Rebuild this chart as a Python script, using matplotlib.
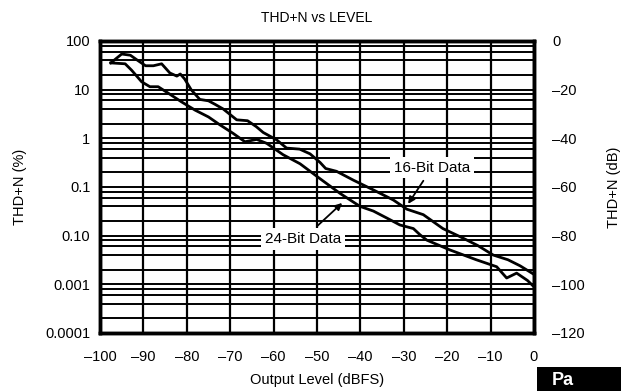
import numpy as np
import matplotlib
matplotlib.use("Agg")
import matplotlib.pyplot as plt
from matplotlib.ticker import LogLocator, NullFormatter, FixedLocator, FixedFormatter

plt.rcParams['font.family'] = ['Liberation Sans', 'DejaVu Sans']

# Output level (dBFS) and THD+N (%) for each word length
level_16 = [-97.5, -95, -93, -91.5, -89.5, -87.7, -85.8, -83.9, -82.3, -81.5, -80.5,
            -79, -77, -75, -73.5, -71.6, -68.5, -66, -64, -62.4, -59.3, -57, -54,
            -51.6, -49.3, -48, -45.5, -41.6, -37, -32.4, -29.3, -25.5, -21, -17,
            -13, -9.4, -6, -3.2, 0]
thdn_16 = [35.5, 54, 51, 41, 31, 31, 34, 22, 19, 21, 16.6,
           10, 6.3, 5.9, 5.0, 4.0, 2.4, 2.3, 1.74, 1.32, 0.93, 0.63, 0.60,
           0.48, 0.32, 0.24, 0.21, 0.138, 0.087, 0.054, 0.035, 0.027, 0.014, 0.0095,
           0.0063, 0.0040, 0.0032, 0.0024, 0.0016]

level_24 = [-97.5, -94.2, -92.7, -90.4, -88.5, -86.6, -84.3, -81.2, -78.1, -75,
            -72.4, -69.3, -66.6, -63.9, -61.6, -57.8, -53.9, -49.3, -44.7, -40.1,
            -37, -33.9, -30.9, -27.8, -26.3, -24.7, -19.4, -13.3, -8.6, -6.3, -4,
            -1.5, 0]
thdn_24 = [35.5, 34, 25, 14.5, 11.5, 11.5, 8.5, 5.6, 3.8, 2.75,
           1.9, 1.26, 0.85, 0.95, 0.79, 0.46, 0.30, 0.148, 0.074, 0.040,
           0.032, 0.023, 0.0166, 0.014, 0.0105, 0.0081, 0.0051, 0.0032, 0.0023, 0.00135, 0.0017,
           0.0012, 0.00089]

x_ticks = [-100, -90, -80, -70, -60, -50, -40, -30, -20, -10, 0]
x_labels = ['\u2013100', '\u201390', '\u201380', '\u201370', '\u201360', '\u201350',
            '\u201340', '\u201330', '\u201320', '\u201310', '0']
pct_ticks = [100, 10, 1, 0.1, 0.01, 0.001, 0.0001]
pct_labels = ['100', '10', '1', '0.1', '0.10', '0.001', '0.0001']
db_ticks = [0, -20, -40, -60, -80, -100, -120]
db_labels = ['0', '\u201320', '\u201340', '\u201360', '\u201380', '\u2013100', '\u2013120']

fig = plt.figure(figsize=(6.21, 3.91), dpi=100)
ax = fig.add_axes([100/621, 1-333/391, 434/621, 292/391])

ax.set_yscale('log')
ax.set_xlim(-100, 0)
ax.set_ylim(1e-4, 100)

# grid: 2-4-6-8 subdivisions per decade, every 10 dB vertically
ax.yaxis.set_minor_locator(LogLocator(base=10, subs=[2, 4, 6, 8]))
ax.yaxis.set_minor_formatter(NullFormatter())
ax.yaxis.set_major_locator(FixedLocator(pct_ticks))
ax.yaxis.set_major_formatter(FixedFormatter(pct_labels))
ax.set_xticks(x_ticks)
ax.set_xticklabels(x_labels)
ax.grid(True, which='both', axis='y', color='black', lw=1.4)
ax.grid(True, which='major', axis='x', color='black', lw=1.6)
ax.tick_params(axis='y', which='both', length=0, labelsize=10.5, pad=7)
ax.tick_params(axis='x', which='both', length=0, labelsize=10.5, pad=12)

ax.plot(level_16, thdn_16, color='black', lw=2.0, zorder=3)
ax.plot(level_24, thdn_24, color='black', lw=2.0, zorder=3)

for s in ax.spines.values():
    s.set_linewidth(2.5)

ax.annotate('16-Bit Data', xy=(-29.0, 0.045), xytext=(-23.5, 0.25),
            fontsize=11, ha='center', va='center', zorder=5,
            bbox=dict(boxstyle='square,pad=0.25', fc='white', ec='none'),
            arrowprops=dict(arrowstyle='-|>', color='black', lw=1.3,
                            mutation_scale=10, shrinkA=2, shrinkB=0))
ax.annotate('24-Bit Data', xy=(-44.2, 0.047), xytext=(-53.2, 0.0085),
            fontsize=11, ha='center', va='center', zorder=5,
            bbox=dict(boxstyle='square,pad=0.25', fc='white', ec='none'),
            arrowprops=dict(arrowstyle='-|>', color='black', lw=1.3,
                            mutation_scale=10, shrinkA=2, shrinkB=0))

ax2 = ax.twinx()
ax2.set_ylim(-120, 0)
ax2.set_yticks(db_ticks)
ax2.set_yticklabels(db_labels)
ax2.tick_params(length=0, labelsize=10.5, pad=13)
for s in ax2.spines.values():
    s.set_linewidth(2.5)

ax.set_title('THD+N vs LEVEL', fontsize=10, pad=14)
ax.set_xlabel('Output Level (dBFS)', fontsize=10.5, labelpad=7)
ax.set_ylabel('THD+N (%)', fontsize=10.5, labelpad=13)
ax2.set_ylabel('THD+N (dB)', fontsize=10.5, labelpad=16)

# corner tab
fig.patches.append(plt.Rectangle((537/621, 0), 84/621, 24/391, transform=fig.transFigure,
                                 fc='black', ec='none'))
fig.text(552/621, 2/391, 'Pa', color='white', fontsize=13, fontweight='bold',
         ha='left', va='bottom')

fig.savefig('out.png', dpi=100)
